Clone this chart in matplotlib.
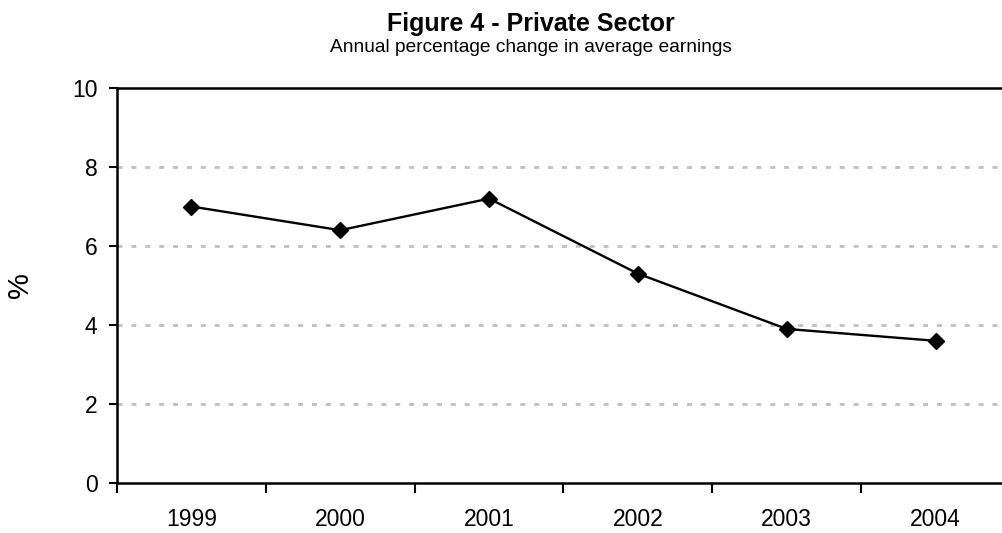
import matplotlib
matplotlib.use('Agg')
import matplotlib.pyplot as plt
import numpy as np

plt.rcParams['font.family'] = ['Liberation Sans', 'DejaVu Sans']

years = ['1999', '2000', '2001', '2002', '2003', '2004']
earnings = [7.0, 6.4, 7.2, 5.3, 3.9, 3.6]
yticks = [0, 2, 4, 6, 8, 10]

fig = plt.figure(figsize=(10.02, 5.33), dpi=100)
# axes run a bit past the right edge, like the source
ax = fig.add_axes([117 / 1002, (533 - 483) / 533, (1010 - 117) / 1002, (483 - 88) / 533])

x = np.arange(len(years))
ax.plot(x, earnings, color='black', lw=1.7, marker='D', markersize=8.5, zorder=3)

ax.set_xlim(-0.5, len(years) - 0.5)
ax.set_ylim(0, 10)
ax.set_yticks(yticks)
ax.set_yticklabels([str(v) for v in yticks], fontsize=16.5)
ax.set_xticks(x)
ax.set_xticklabels(years, fontsize=16.5)
ax.tick_params(axis='x', length=0, pad=18)
ax.set_xticks(np.arange(len(years) + 1) - 0.5, minor=True)
ax.tick_params(axis='x', which='minor', length=7, width=1.5, direction='out')
ax.tick_params(axis='y', length=6, width=1.5, direction='out', pad=8)

for v in yticks[1:-1]:
    ax.axhline(v, color='#c0c0c0', lw=2, ls=(0, (1.8, 3.2)), zorder=1)

for s in ['left', 'bottom', 'top']:
    ax.spines[s].set_linewidth(1.8)
    ax.spines[s].set_color('black')
ax.spines['right'].set_visible(False)

ax.set_ylabel('%', fontsize=21)
ax.yaxis.set_label_coords(-83 / 893, 0.5)

fig.text(531 / 1002, 1 - 24 / 533, 'Figure 4 - Private Sector', ha='center', va='center',
         fontsize=18, fontweight='bold')
fig.text(531 / 1002, 1 - 47 / 533, 'Annual percentage change in average earnings', ha='center',
         va='center', fontsize=13.8)

fig.savefig('out.png', dpi=100)
